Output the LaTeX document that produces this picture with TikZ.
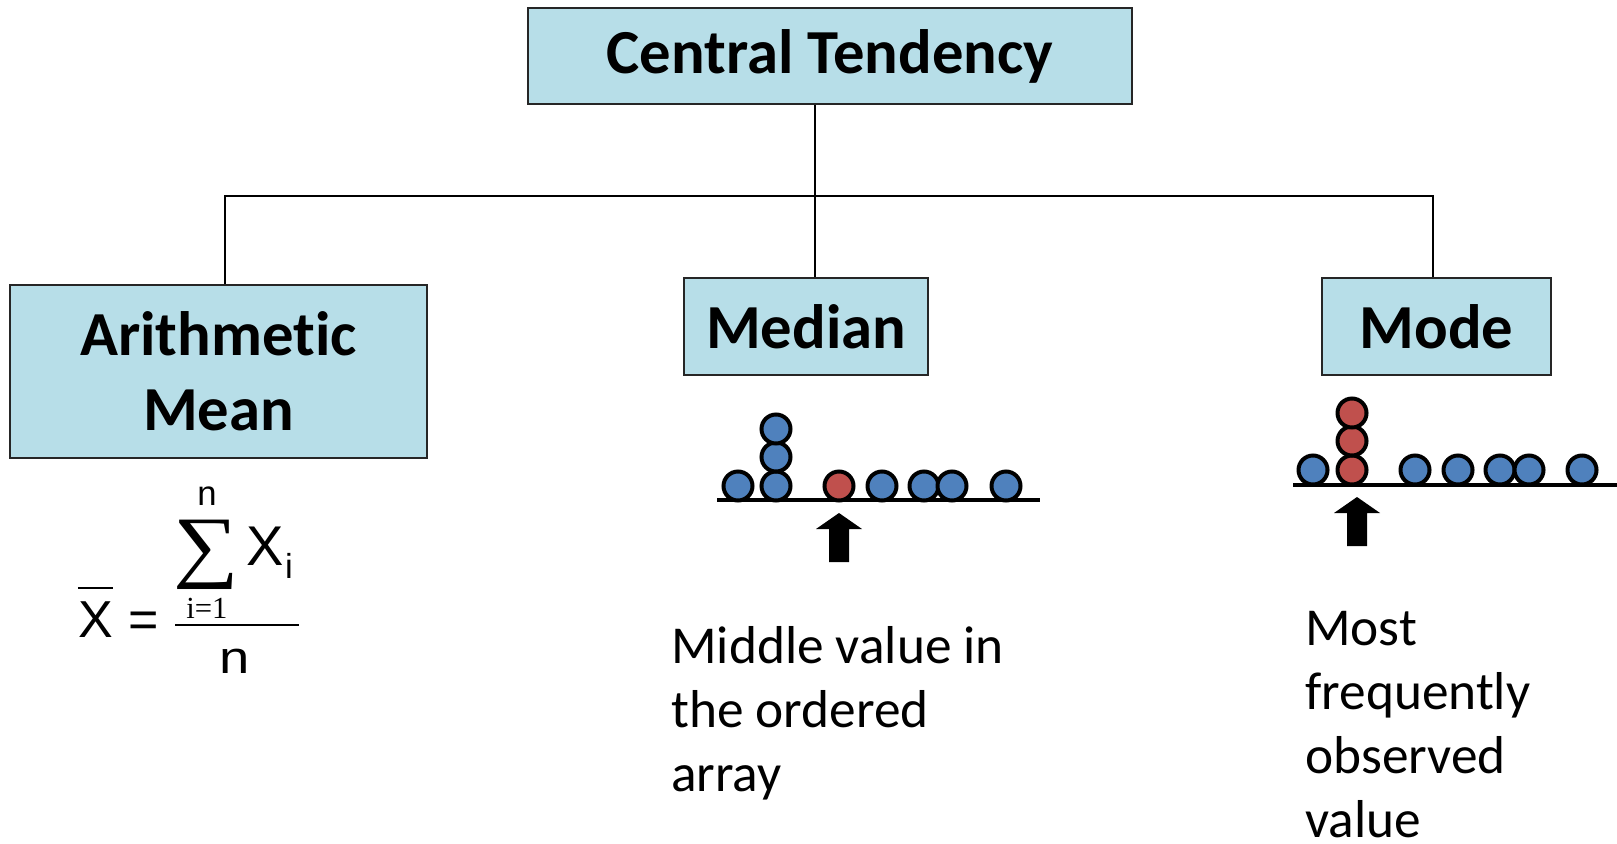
\documentclass[tikz,border=0pt]{standalone}
\usepackage{fontspec}
\setmainfont{Carlito}[Ligatures=NoCommon]
\newfontfamily\arialfont{Liberation Sans}
\newfontfamily\timesfont{Liberation Serif}
\usetikzlibrary{positioning}
\definecolor{boxblue}{RGB}{183,222,232}
\definecolor{dotblue}{RGB}{79,129,189}
\definecolor{dotred}{RGB}{192,80,77}
\tikzstyle{box}=[draw=black!85, line width=1.5pt, fill=boxblue, font=\bfseries\fontsize{47}{56}\selectfont, align=center, inner sep=0pt]
\tikzstyle{bluedot}=[circle, fill=dotblue, draw=black, line width=3pt, minimum size=21.75pt, inner sep=0pt]
\tikzstyle{reddot}=[bluedot, fill=dotred]
\tikzstyle{note}=[anchor=base west, align=left, font=\fontsize{40}{48}\selectfont, inner sep=0pt]
\tikzstyle{formula}=[inner sep=0pt, anchor=base]
\tikzstyle{link}=[line width=2.2pt]
% block arrow pointing up, tip at (#1,#2)
\newcommand{\blockarrow}[2]{\fill (#1,#2) -- ++(23,16) -- ++(-13,0) -- ++(0,33) -- ++(-20,0) -- ++(0,-33) -- ++(-13,0) -- cycle;}

\begin{document}
\begin{tikzpicture}[x=0.75pt, y=-0.75pt]
			\useasboundingbox (0,0) rectangle (1617,843);

			% the four boxes
			\node[box, minimum width=453pt, minimum height=72pt] (ct) at (830,56) {Central Tendency};
			\node[box, minimum width=312.75pt, minimum height=129.75pt] (mean) at (218.5,371.5) {Arithmetic\\Mean};
			\node[box, minimum width=183pt, minimum height=72.75pt] (median) at (806,326.5) {Median};
			\node[box, minimum width=171.75pt, minimum height=72.75pt] (mode) at (1436.5,326.5) {Mode};

			% tree lines
			\coordinate (hub) at (815,196);
			\coordinate (hubL) at (225,196);
			\coordinate (hubR) at (1433,196);
			\draw[link] (ct.south -| hub) -- (median.north -| hub);
			\draw[link] (mean.north -| hubL) -- (hubL) -- (hubR) -- (mode.north -| hubR);

			% mean formula
			\node[formula, font=\arialfont\fontsize{39}{39}\selectfont] (xbar) at (95.5,637) {X};
			\draw[line width=1.5pt] ([yshift=10pt]xbar.north west) -- ([yshift=10pt]xbar.north east);
			\node[formula, font=\arialfont\fontsize{39}{39}\selectfont] (eq) at (144,637) {=};
			\node[inner sep=0pt, xscale=1.15, font=\timesfont\fontsize{60}{60}\selectfont] (sumsym) at (206.5,555) {∑};
			\node[formula, font=\arialfont\fontsize{26}{26}\selectfont] (upper) at (207,505) {n};
			\node[formula, font=\timesfont\fontsize{23}{23}\selectfont] (lower) at (207,618) {i=1};
			\node[formula, font=\arialfont\fontsize{42}{42}\selectfont] (xi) at (265,565) {X};
			\node[formula, font=\arialfont\fontsize{26}{26}\selectfont] (sub) at (289,578) {i};
			\node[formula, xscale=1.2, font=\arialfont\fontsize{34}{34}\selectfont] (denom) at (235,673) {n};
			\coordinate (fracl) at (175,625);
			\coordinate (fracr) at (299,625);
			\draw[line width=1.5pt] (fracl) -- (fracr);

			% median dots
			\draw[line width=3pt] (717,500) -- (1040,500);
			\foreach \x/\y in {738/486, 776/486, 776/457, 776/429}{
				\node[bluedot] at (\x,\y) {};
			}
			\node[reddot] at (839,486) {};
			\foreach \x in {882, 924, 952, 1006}{
				\node[bluedot] at (\x,486) {};
			}
			\blockarrow{839}{513}

			% mode dots
			\draw[line width=3pt] (1293,485) -- (1617,485);
			\node[bluedot] at (1313,470) {};
			\foreach \y in {470, 441, 413}{
				\node[reddot] at (1352,\y) {};
			}
			\foreach \x in {1415, 1458, 1500, 1529, 1582}{
				\node[bluedot] at (\x,470) {};
			}
			\blockarrow{1357}{497}

			% descriptions (placed at the baseline of the last line)
			\node[note] (mediantext) at (671,791) {Middle value in\\the ordered\\array};
			\node[note] (modetext) at (1305,837) {Most\\frequently\\observed\\value};
		\end{tikzpicture}
\end{document}
